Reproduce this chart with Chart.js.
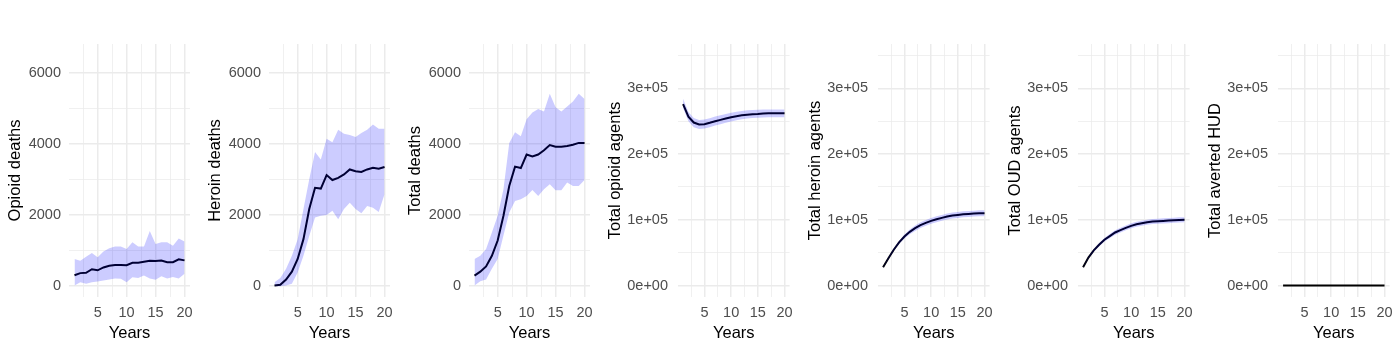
<!DOCTYPE html>
<html>
<head>
<meta charset="utf-8">
<script src="https://cdn.jsdelivr.net/npm/chart.js@4"></script>
<style>
  body { margin: 0; background: #ffffff; width: 1400px; height: 350px; overflow: hidden; }
  .panel { position: absolute; top: 0; width: 200px; height: 350px; }
</style>
</head>
<body>
<div id="panels"></div>
<script>
// ---- data ----
const years = [1, 2, 3, 4, 5, 6, 7, 8, 9, 10, 11, 12, 13, 14, 15, 16, 17, 18, 19, 20];

const opioidDeathsMean = [290, 350, 360, 460, 430, 510, 560, 580, 580, 575, 640, 640, 670, 700, 690, 705, 660, 660, 740, 710];
const opioidDeathsLow  = [0, 90, 50, 90, 110, 140, 170, 200, 190, 90, 230, 210, 280, 200, 160, 260, 200, 240, 200, 330];
const opioidDeathsHigh = [750, 700, 815, 920, 800, 960, 1050, 1100, 1100, 1030, 1220, 1100, 1100, 1540, 1170, 1220, 1220, 1120, 1330, 1240];

const heroinDeathsMean = [0, 20, 170, 390, 750, 1310, 2160, 2760, 2740, 3120, 2980, 3040, 3140, 3280, 3230, 3210, 3280, 3330, 3300, 3350];
const heroinDeathsLow  = [-20, -20, 0, 50, 370, 840, 1400, 1920, 1970, 1990, 2110, 1870, 2160, 2340, 2160, 2040, 2250, 2200, 2080, 2580];
const heroinDeathsHigh = [90, 210, 470, 840, 1310, 2160, 3000, 3770, 3560, 4150, 4050, 4400, 4290, 4250, 4200, 4310, 4400, 4550, 4430, 4430];

const totalDeathsMean = [280, 390, 540, 840, 1270, 1970, 2810, 3360, 3320, 3700, 3650, 3700, 3820, 3970, 3920, 3920, 3940, 3980, 4030, 4030];
const totalDeathsLow  = [0, 120, 170, 470, 750, 1410, 2060, 2390, 2440, 2530, 2700, 2530, 2720, 2860, 2690, 2690, 2910, 2810, 2810, 2980];
const totalDeathsHigh = [750, 840, 1030, 1500, 1970, 2720, 4030, 4330, 4220, 4700, 4890, 4990, 4920, 5420, 5040, 4920, 5060, 5200, 5420, 5270];

const opioidAgentsMean = [276000, 257000, 248000, 245000, 245500, 247600, 250000, 252000, 254000, 256000, 257700, 259000, 260000, 260700, 261000, 261700, 262000, 262000, 262000, 262000];
const opioidAgentsLow  = [270000, 250000, 241000, 238000, 239000, 241000, 243500, 245500, 247500, 249500, 251500, 253000, 254000, 254800, 255200, 255800, 256000, 256000, 256000, 256000];
const opioidAgentsHigh = [284000, 264000, 255000, 252000, 252500, 254500, 257000, 259000, 261000, 263000, 264500, 265500, 266500, 267000, 267300, 267700, 268000, 268000, 268000, 268000];

const heroinAgentsMean = [27700, 41400, 54500, 65600, 74600, 81700, 87200, 91800, 95300, 98300, 100900, 102900, 104900, 106400, 107400, 108400, 108900, 109400, 109900, 110000];
const heroinAgentsLow  = [27000, 40000, 52500, 63000, 71500, 78000, 83000, 87500, 90800, 93800, 96400, 98400, 100400, 101900, 102900, 103900, 104400, 104900, 105400, 105500];
const heroinAgentsHigh = [28400, 42800, 56500, 68200, 77700, 85400, 91400, 96100, 99800, 102800, 105400, 107400, 109400, 110900, 111900, 112900, 113400, 113900, 114400, 114500];

const oudAgentsMean = [27700, 42400, 53500, 62000, 69600, 75100, 80700, 84200, 87700, 90800, 93300, 94800, 96300, 97300, 97800, 98300, 98800, 99300, 99800, 100000];
const oudAgentsLow  = [27000, 41000, 51500, 59500, 66800, 72000, 77300, 80600, 84000, 87000, 89400, 90900, 92400, 93400, 93900, 94400, 94900, 95400, 95900, 96100];
const oudAgentsHigh = [28400, 43800, 55500, 64500, 72400, 78200, 84100, 87800, 91400, 94600, 97200, 98700, 100200, 101200, 101700, 102200, 102700, 103200, 103700, 103900];

const avertedMean = [0, 0, 0, 0, 0, 0, 0, 0, 0, 0, 0, 0, 0, 0, 0, 0, 0, 0, 0, 0];
const avertedLow  = [0, 0, 0, 0, 0, 0, 0, 0, 0, 0, 0, 0, 0, 0, 0, 0, 0, 0, 0, 0];
const avertedHigh = [0, 0, 0, 0, 0, 0, 0, 0, 0, 0, 0, 0, 0, 0, 0, 0, 0, 0, 0, 0];

const yearTicks  = [2.5, 5, 7.5, 10, 12.5, 15, 17.5, 20];
const yearLabels = ['', '5', '', '10', '', '15', '', '20'];

const deathTicks  = [0, 1000, 2000, 3000, 4000, 5000, 6000];
const deathLabels = ['0', '', '2000', '', '4000', '', '6000'];

const agentTicks  = [0, 50000, 100000, 150000, 200000, 250000, 300000, 350000];
const agentLabels = ['0e+00', '', '1e+05', '', '2e+05', '', '3e+05', ''];

const panelTitles = ['Opioid deaths', 'Heroin deaths', 'Total deaths', 'Total opioid agents',
                     'Total heroin agents', 'Total OUD agents', 'Total averted HUD'];

// ---- drawing ----
const FONT = "'Liberation Sans', Arial, Helvetica, sans-serif";
const GRID = '#ebebeb';

function tickAxis(values, labels) {
    return {
        afterBuildTicks: function(scale) {
            scale.ticks = values.map(v => ({ value: v }));
        },
        label: function(value) {
            const idx = values.indexOf(value);
            return idx >= 0 ? labels[idx] : '';
        },
        width: function(ctx) {
            if (!ctx.tick) return 0.7;
            const idx = values.indexOf(ctx.tick.value);
            return (idx >= 0 && labels[idx] !== '') ? 1.5 : 0.75;
        }
    };
}

function makePanel(i, mean, low, high, deaths) {
    const holder = document.createElement('div');
    holder.className = 'panel';
    holder.style.left = (i * 200) + 'px';
    const canvas = document.createElement('canvas');
    canvas.width = 200;
    canvas.height = 350;
    holder.appendChild(canvas);
    document.getElementById('panels').appendChild(holder);

    const yVals = deaths ? deathTicks : agentTicks;
    const yLabs = deaths ? deathLabels : agentLabels;
    const plotLeft = deaths ? 69 : 78;
    const yPad = deaths ? 8 : 10;
    const xAx = tickAxis(yearTicks, yearLabels);
    const yAx = tickAxis(yVals, yLabs);

    new Chart(canvas.getContext('2d'), {
        type: 'line',
        data: {
            labels: years,
            datasets: [
                {
                    data: low,
                    borderColor: 'transparent',
                    backgroundColor: 'transparent',
                    pointRadius: 0,
                    fill: false
                },
                {
                    // ribbon drawn over the mean line, like the original
                    data: high,
                    borderColor: 'transparent',
                    backgroundColor: 'rgba(0,0,255,0.2)',
                    pointRadius: 0,
                    fill: '-1'
                },
                {
                    data: mean,
                    borderColor: '#000000',
                    borderWidth: 2,
                    pointRadius: 0,
                    fill: false,
                    tension: 0
                }
            ]
        },
        options: {
            responsive: false,
            animation: false,
            devicePixelRatio: 1,
            layout: { padding: { top: 44, right: 9, left: 0, bottom: 0 } },
            plugins: { legend: { display: false }, tooltip: { enabled: false } },
            scales: {
                x: {
                    type: 'linear',
                    min: 0.05,
                    max: 20.95,
                    afterBuildTicks: xAx.afterBuildTicks,
                    afterFit: function(scale) { scale.height = 53; },
                    border: { display: false },
                    grid: { color: GRID, lineWidth: xAx.width, drawTicks: false },
                    ticks: {
                        callback: xAx.label,
                        autoSkip: false,
                        maxRotation: 0,
                        padding: 7,
                        color: '#4d4d4d',
                        font: { family: FONT, size: 14.5 }
                    },
                    title: {
                        display: true,
                        text: 'Years',
                        color: '#000000',
                        padding: { top: 0, bottom: 7 },
                        font: { family: FONT, size: 16.5 }
                    }
                },
                y: {
                    type: 'linear',
                    min: deaths ? -325 : -17500,
                    max: deaths ? 6825 : 367500,
                    afterBuildTicks: yAx.afterBuildTicks,
                    afterFit: function(scale) { scale.width = plotLeft; },
                    border: { display: false },
                    grid: { color: GRID, lineWidth: yAx.width, drawTicks: false },
                    ticks: {
                        callback: yAx.label,
                        autoSkip: false,
                        padding: yPad,
                        color: '#4d4d4d',
                        font: { family: FONT, size: 14.5 }
                    },
                    title: {
                        display: true,
                        text: panelTitles[i],
                        color: '#000000',
                        padding: { top: 6, bottom: 0 },
                        font: { family: FONT, size: 16.5 }
                    }
                }
            }
        }
    });
}

const panelData = [
    [opioidDeathsMean, opioidDeathsLow, opioidDeathsHigh, true],
    [heroinDeathsMean, heroinDeathsLow, heroinDeathsHigh, true],
    [totalDeathsMean, totalDeathsLow, totalDeathsHigh, true],
    [opioidAgentsMean, opioidAgentsLow, opioidAgentsHigh, false],
    [heroinAgentsMean, heroinAgentsLow, heroinAgentsHigh, false],
    [oudAgentsMean, oudAgentsLow, oudAgentsHigh, false],
    [avertedMean, avertedLow, avertedHigh, false]
];

panelData.forEach(function(p, i) {
    makePanel(i, p[0], p[1], p[2], p[3]);
});
</script>
</body>
</html>
